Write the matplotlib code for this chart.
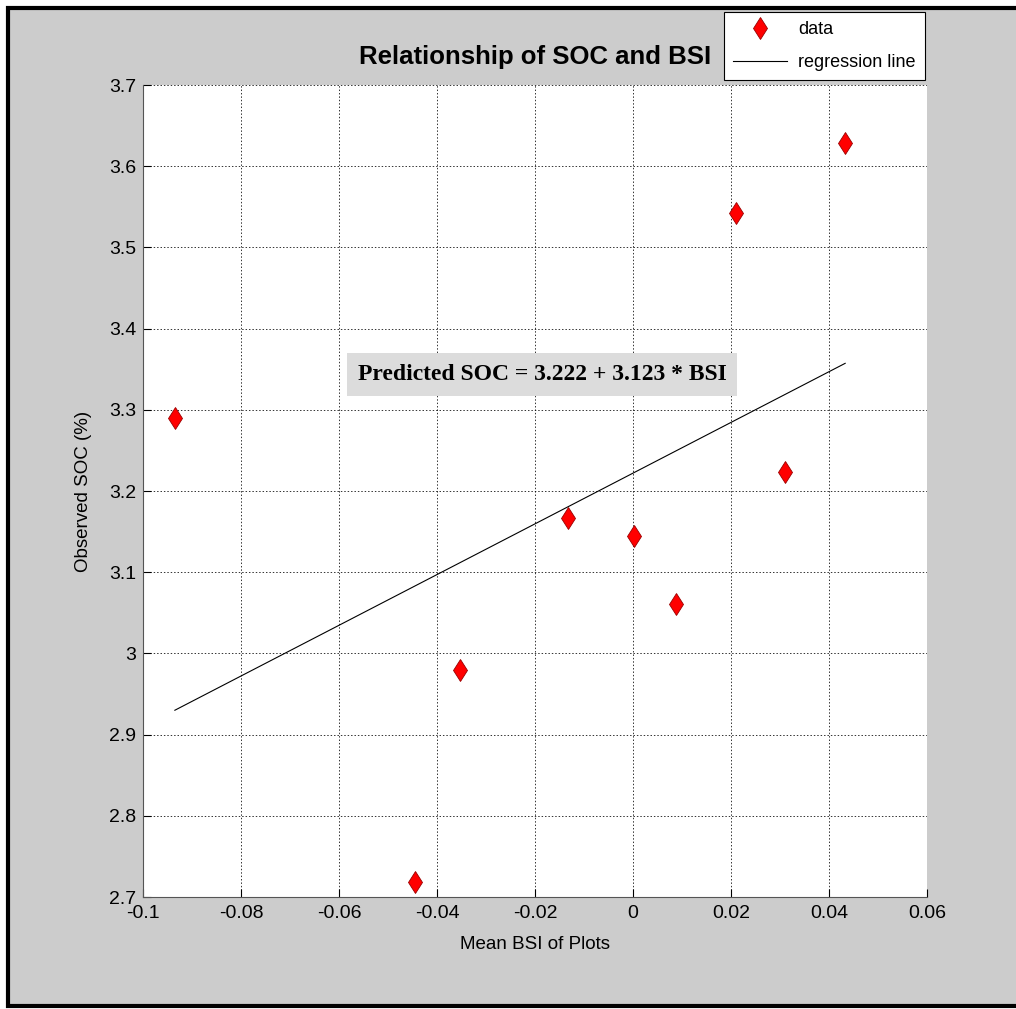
import matplotlib.pyplot as plt
from matplotlib.patches import Rectangle

# data
bsi = [-0.0935, -0.0445, -0.0353, -0.0133, 0.0002, 0.0088, 0.0210, 0.0310, 0.0433]
soc = [3.290, 2.718, 2.980, 3.167, 3.144, 3.061, 3.542, 3.223, 3.629]
intercept = 3.222
slope = 3.123

xticks = [-0.1, -0.08, -0.06, -0.04, -0.02, 0, 0.02, 0.04, 0.06]
xtick_labels = ["-0.1", "-0.08", "-0.06", "-0.04", "-0.02", "0", "0.02", "0.04", "0.06"]
yticks = [2.7, 2.8, 2.9, 3.0, 3.1, 3.2, 3.3, 3.4, 3.5, 3.6, 3.7]
ytick_labels = ["2.7", "2.8", "2.9", "3", "3.1", "3.2", "3.3", "3.4", "3.5", "3.6", "3.7"]

plt.rcParams["font.family"] = ["Liberation Sans", "DejaVu Sans"]

fig = plt.figure(figsize=(10.16, 10.09), dpi=100, facecolor="white")

# gray MATLAB-like window with black frame
fig.patches.append(Rectangle((8 / 1016, 3 / 1009), 1.1, 1 - 11 / 1009,
                             transform=fig.transFigure, facecolor="#cccccc",
                             edgecolor="black", linewidth=3, zorder=-10))

ax = fig.add_axes([143 / 1016, 1 - 897 / 1009, 784 / 1016, 812 / 1009])
ax.set_facecolor("white")

# regression line
x0, x1 = min(bsi), max(bsi)
ax.plot([x0, x1], [intercept + slope * x0, intercept + slope * x1],
        color="black", linewidth=0.8, label="regression line", zorder=3)

# data points
ax.plot(bsi, soc, linestyle="none", marker="d", markersize=11.5,
        markerfacecolor="red", markeredgecolor="#990000", markeredgewidth=0.6,
        label="data", zorder=4)

ax.set_xlim(-0.1, 0.06)
ax.set_ylim(2.7, 3.7)
ax.set_xticks(xticks)
ax.set_xticklabels(xtick_labels)
ax.set_yticks(yticks)
ax.set_yticklabels(ytick_labels)
ax.tick_params(direction="in", length=6, labelsize=14, top=False, right=False)
ax.tick_params(axis="x", pad=6)
ax.tick_params(axis="y", pad=5)

# grid
ax.grid(True, linestyle=(0, (1.5, 2)), color="black", linewidth=0.7, alpha=0.8)
for side in ["top", "right"]:
    ax.spines[side].set_visible(False)
for side in ["left", "bottom"]:
    ax.spines[side].set_color("#555555")

ax.set_title("Relationship of SOC and BSI", fontsize=18.5, fontweight="bold", pad=15)
ax.set_xlabel("Mean BSI of Plots", fontsize=13.5, labelpad=10)
ax.set_ylabel("Observed SOC (%)", fontsize=13.5, labelpad=12)

# equation box
ax.text(-0.0185, 3.3435, "Predicted SOC = 3.222 + 3.123 * BSI",
        family=["Liberation Serif", "DejaVu Serif"], fontweight="bold", fontsize=17,
        ha="center", va="center", zorder=5,
        bbox=dict(boxstyle="square,pad=0.45", facecolor="#dcdcdc", edgecolor="none"))

# legend
handles, labels = ax.get_legend_handles_labels()
leg = fig.legend(handles[::-1], labels[::-1], loc="upper left",
                 bbox_to_anchor=(724 / 1016, 1 - 12 / 1009), borderaxespad=0,
                 fancybox=False, edgecolor="black", framealpha=1, fontsize=13,
                 handlelength=3.0, handletextpad=0.6, borderpad=0.5, labelspacing=0.9)
leg.get_frame().set_linewidth(0.8)

fig.savefig("out.png", dpi=100, facecolor=fig.get_facecolor())
